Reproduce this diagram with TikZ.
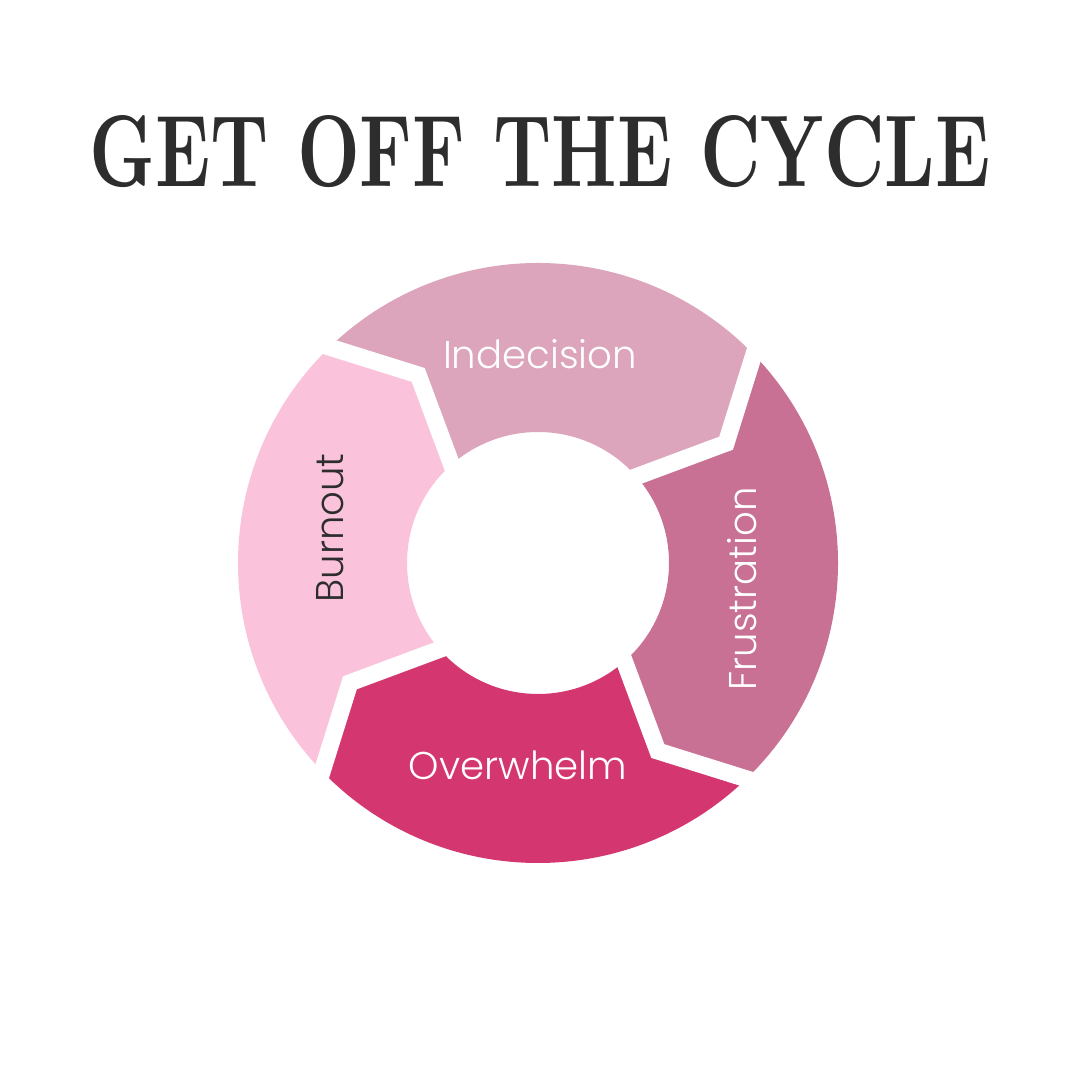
\documentclass[tikz,border=0pt]{standalone}
\usepackage{fontspec}
\usepackage{xcolor}
\usepackage{graphicx}
\newfontfamily\labelfont[UprightFont=* Light]{Poppins}
\definecolor{titlegray}{HTML}{2D2D2D}
\definecolor{indecisionpink}{HTML}{DCA5BB}
\definecolor{burnoutpink}{HTML}{FAC3DB}
\definecolor{overwhelmpink}{HTML}{D4366F}
\definecolor{frustrationpink}{HTML}{C87194}
\usetikzlibrary{positioning}
\tikzset{
	GapLine/.style={draw=white, line width=0.17cm, line join=miter}
}

\begin{document}
\begin{tikzpicture}[RingText/.style={font=\labelfont\fontsize{11}{13}\selectfont, inner sep=0pt}]
		\useasboundingbox (0,0) rectangle (10.8,10.8);
		\node[text=titlegray, inner sep=0pt] (title) at (5.40,9.28) {\resizebox{9cm}{0.71cm}{\bfseries GET OFF THE CYCLE}};
		\begin{scope}[shift={(5.38,5.17)}]
			\foreach \a/\col in {45/indecisionpink, 135/burnoutpink, 225/overwhelmpink, 315/frustrationpink}{
				\fill[\col] (\a:3) arc[start angle=\a, end angle=\a+90, radius=3] -- (\a+77.5:2.23) -- (\a+88.3:1.31) arc[start angle=\a+88.3, end angle=\a-1.7, radius=1.31] -- (\a-12.5:2.23) -- cycle;
			}
			\foreach \a in {45,135,225,315}
				\draw[GapLine] (\a:3.1) -- (\a-12.5:2.23) -- (\a-1.7:1.2);
		\end{scope}
		\node[RingText, text=white] (indecision) at (5.40,7.26) {Indecision};
		\node[RingText, text=titlegray, rotate=90] (burnout) at (3.30,5.52) {Burnout};
		\node[RingText, text=white, rotate=90] (frustration) at (7.42,4.91) {Frustration};
		\node[RingText, text=white] (overwhelm) at (5.18,3.15) {Overwhelm};
	\end{tikzpicture}
\end{document}
